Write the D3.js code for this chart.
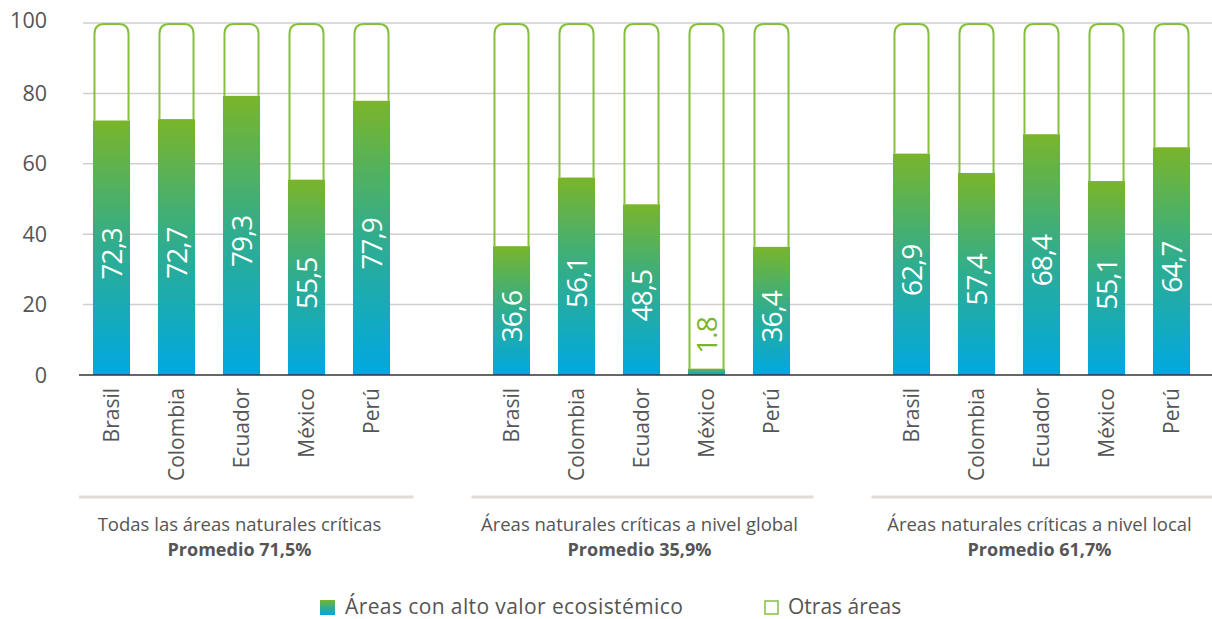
<!DOCTYPE html>
<html>
<head>
<meta charset="utf-8">
<script src="https://cdn.jsdelivr.net/npm/d3@7"></script>
<style>
  body { margin: 0; background: #fff; }
  text { font-family: "Open Sans", sans-serif; }
</style>
</head>
<body>
<div id="chart"></div>
<script>
// chart data
var groups = ["Todas las áreas naturales críticas", "Áreas naturales críticas a nivel global", "Áreas naturales críticas a nivel local"];
var averages = ["Promedio 71,5%", "Promedio 35,9%", "Promedio 61,7%"];
var countries = ["Brasil", "Colombia", "Ecuador", "México", "Perú"];
var valuesAll = [72.3, 72.7, 79.3, 55.5, 77.9];
var valuesGlobal = [36.6, 56.1, 48.5, 1.8, 36.4];
var valuesLocal = [62.9, 57.4, 68.4, 55.1, 64.7];
var valueLabels = [
  ["72,3", "72,7", "79,3", "55,5", "77,9"],
  ["36,6", "56,1", "48,5", "1.8", "36,4"],
  ["62,9", "57,4", "68,4", "55,1", "64,7"]
];
var yTicks = [0, 20, 40, 60, 80, 100];
var legendLabels = ["Áreas con alto valor ecosistémico", "Otras áreas"];

var svgWidth = 1212, svgHeight = 619;
var green = "#7ab52a", blue = "#00a8e1", outline = "#84c03c";

var svg = d3.select("#chart").append("svg")
  .attr("width", svgWidth)
  .attr("height", svgHeight);

// gradient for the filled bars (per bar)
var grad = svg.append("defs").append("linearGradient")
  .attr("id", "barGrad")
  .attr("x1", 0).attr("y1", 0).attr("x2", 0).attr("y2", 1);
grad.append("stop").attr("offset", "0%").attr("stop-color", green);
grad.append("stop").attr("offset", "50%").attr("stop-color", "#2fad8f");
grad.append("stop").attr("offset", "100%").attr("stop-color", blue);

// scales
var yScale = d3.scaleLinear().domain([0, 100]).range([375, 23]);
var xGroup = d3.scaleBand().domain(groups).range([41.5, 1241.5]);
var xCountry = d3.scaleBand().domain(countries).range([37.5, 362.5]).paddingInner(0.43).paddingOuter(0.215);

// gridlines
svg.append("g").selectAll("line")
  .data(yTicks.filter(d => d > 0))
  .enter().append("line")
  .attr("x1", 83).attr("x2", svgWidth)
  .attr("y1", d => yScale(d)).attr("y2", d => yScale(d))
  .attr("stroke", "#cfcfcf").attr("stroke-width", 1.5);

// y tick labels
svg.append("g").selectAll("text")
  .data(yTicks)
  .enter().append("text")
  .attr("x", 47)
  .attr("y", d => yScale(d) + (d == 100 ? -3 : 0))
  .attr("dy", "0.35em")
  .attr("text-anchor", "end")
  .attr("font-size", 21.5)
  .attr("fill", "#555")
  .text(d => d);

var data = [valuesAll, valuesGlobal, valuesLocal];

groups.forEach(function(g, gi) {
  var gx = xGroup(g);
  var bw = xCountry.bandwidth();
  var rows = countries.map((c, i) => ({country: c, value: data[gi][i], label: valueLabels[gi][i]}));
  var grp = svg.append("g").attr("transform", `translate(${gx},0)`);

  // outline for "Otras áreas"
  grp.selectAll("path.other")
    .data(rows)
    .enter().append("path")
    .attr("class", "other")
    .attr("d", function(d) {
      var x0 = xCountry(d.country) + 1.5, x1 = xCountry(d.country) + bw - 1.5;
      var top = yScale(100) + 1, bot = yScale(d.value), r = 10;
      return `M${x0},${bot} L${x0},${top + r} Q${x0},${top} ${x0 + r},${top} L${x1 - r},${top} Q${x1},${top} ${x1},${top + r} L${x1},${bot}`;
    })
    .attr("fill", "none")
    .attr("stroke", outline)
    .attr("stroke-width", 2);

  // filled bars
  grp.selectAll("rect.high")
    .data(rows)
    .enter().append("rect")
    .attr("class", "high")
    .attr("x", d => xCountry(d.country))
    .attr("width", bw)
    .attr("y", d => yScale(d.value))
    .attr("height", d => yScale(0) - yScale(d.value))
    .attr("fill", "url(#barGrad)");

  // value labels
  grp.selectAll("text.val")
    .data(rows)
    .enter().append("text")
    .attr("class", "val")
    .attr("transform", function(d) {
      var cx = xCountry(d.country) + bw / 2;
      var y = d.value < 10 ? yScale(d.value) - 15 : (yScale(d.value) + yScale(0)) / 2 + 6;
      return `translate(${cx},${y}) rotate(-90)`;
    })
    .attr("dy", "0.36em")
    .attr("text-anchor", d => d.value < 10 ? "start" : "middle")
    .attr("font-size", 28)
    .attr("font-weight", 500)
    .attr("letter-spacing", -1)
    .attr("fill", d => d.value < 10 ? green : "#fff")
    .text(d => d.label);

  // country labels
  grp.selectAll("text.cty")
    .data(rows)
    .enter().append("text")
    .attr("class", "cty")
    .attr("transform", d => `translate(${xCountry(d.country) + bw / 2},388) rotate(-90)`)
    .attr("dy", "0.35em")
    .attr("text-anchor", "end")
    .attr("font-size", 21)
    .attr("fill", "#555")
    .text(d => d.country);

  // group separator and captions
  var cx = gx + xGroup.bandwidth() / 2;
  svg.append("line")
    .attr("x1", Math.max(79, cx - 170)).attr("x2", Math.min(svgWidth, cx + 172))
    .attr("y1", 497).attr("y2", 497)
    .attr("stroke", "#e0dcd7").attr("stroke-width", 3);
  svg.append("text")
    .attr("x", cx - 2).attr("y", 531)
    .attr("text-anchor", "middle")
    .attr("font-size", 18.5)
    .attr("fill", "#555")
    .text(g);
  svg.append("text")
    .attr("x", cx - 2).attr("y", 556)
    .attr("text-anchor", "middle")
    .attr("font-size", 18)
    .attr("font-weight", "bold")
    .attr("fill", "#555")
    .text(averages[gi]);
});

// axis baseline
svg.append("line")
  .attr("x1", 79).attr("x2", svgWidth)
  .attr("y1", yScale(0)).attr("y2", yScale(0))
  .attr("stroke", "#333").attr("stroke-width", 1.5);

// legend
var legend = svg.append("g");
legend.append("rect")
  .attr("x", 320).attr("y", 600).attr("width", 15).attr("height", 15)
  .attr("fill", "url(#barGrad)");
legend.append("text")
  .attr("x", 345).attr("y", 614)
  .attr("font-size", 21)
  .attr("letter-spacing", 0.4)
  .attr("fill", "#555")
  .text(legendLabels[0]);
legend.append("rect")
  .attr("x", 765).attr("y", 601).attr("width", 13).attr("height", 13)
  .attr("fill", "none").attr("stroke", outline).attr("stroke-width", 1.5);
legend.append("text")
  .attr("x", 788).attr("y", 614)
  .attr("font-size", 21)
  .attr("fill", "#555")
  .text(legendLabels[1]);
</script>
</body>
</html>
